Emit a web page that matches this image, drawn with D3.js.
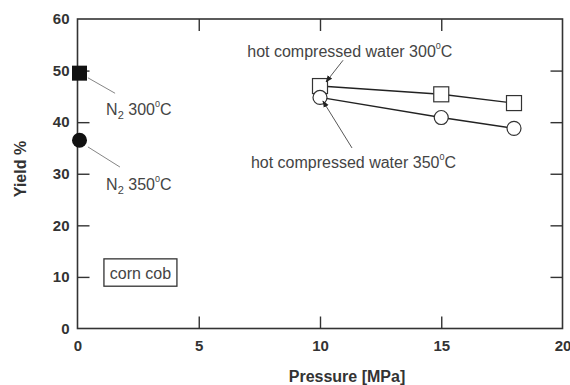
<!DOCTYPE html>
<html>
<head>
<meta charset="utf-8">
<script src="https://cdn.jsdelivr.net/npm/d3@7"></script>
<style>
  body { margin: 0; background: #fff; }
  svg text { font-family: "Liberation Sans", Arial, sans-serif; }
  .tick-label { font-size: 15px; font-weight: bold; fill: #333; }
  .axis-title { font-size: 16px; font-weight: bold; fill: #333; }
  .note { font-size: 16px; fill: #444; }
</style>
</head>
<body>
<div id="chart"></div>
<script>
// data
const xTicks = [0, 5, 10, 15, 20];
const yTicks = [0, 10, 20, 30, 40, 50, 60];

const n2Square = [{ p: 0, y: 49.5 }];   // N2 300°C
const n2Circle = [{ p: 0, y: 36.5 }];   // N2 350°C
const waterPressure = [10, 15, 18];
const water300 = [47.0, 45.4, 43.7];
const water350 = [44.8, 40.9, 38.8];

// annotation positions in data units
const notes = [
    { text: "hot compressed water 300", x: 7.0, y: 52.6, from: [10.95, 52.0], to: [10.25, 47.8], arrow: true },
    { text: "hot compressed water 350", x: 7.15, y: 31.1, from: [11.32, 35.0], to: [10.12, 44.1], arrow: true },
    { text: "N2 300", x: 1.18, y: 41.4, from: [1.55, 45.6], to: [0.43, 48.6], arrow: false, sub: true },
    { text: "N2 350", x: 1.18, y: 26.9, from: [1.75, 31.3], to: [0.43, 35.2], arrow: false, sub: true }
];
const boxLabel = { text: "corn cob", x0: 1.09, x1: 4.1, y0: 8.2, y1: 13.5 };

const margin = { top: 19, right: 7.5, bottom: 56.5, left: 77.5 };
const W = 570, H = 385;
const width = W - margin.left - margin.right;
const height = H - margin.top - margin.bottom;

const svg = d3.select("#chart").append("svg")
    .attr("width", W)
    .attr("height", H);

const defs = svg.append("defs");
defs.append("marker")
    .attr("id", "arrow")
    .attr("viewBox", "0 0 10 10")
    .attr("refX", 9).attr("refY", 5)
    .attr("markerWidth", 7).attr("markerHeight", 7)
    .attr("markerUnits", "userSpaceOnUse")
    .attr("orient", "auto")
    .append("path")
    .attr("d", "M0,1 L10,5 L0,9 Z")
    .attr("fill", "#222");

const g = svg.append("g")
    .attr("transform", `translate(${margin.left},${margin.top})`);

const x = d3.scaleLinear().domain([0, 20]).range([0, width]);
const y = d3.scaleLinear().domain([0, 60]).range([height, 0]);

const tickLen = 12;
const axisColor = "#333";

// frame
g.append("rect")
    .attr("width", width).attr("height", height)
    .attr("fill", "none").attr("stroke", axisColor).attr("stroke-width", 1.6);

// inward ticks on all four sides
const xAxisB = g.append("g").attr("transform", `translate(0,${height})`)
    .call(d3.axisBottom(x).tickValues(xTicks).tickSizeInner(-tickLen).tickSizeOuter(0).tickPadding(12));
const xAxisT = g.append("g")
    .call(d3.axisTop(x).tickValues(xTicks).tickSizeInner(-tickLen).tickSizeOuter(0).tickFormat(""));
const yAxisL = g.append("g")
    .call(d3.axisLeft(y).tickValues(yTicks).tickSizeInner(-tickLen).tickSizeOuter(0).tickPadding(8));
const yAxisR = g.append("g").attr("transform", `translate(${width},0)`)
    .call(d3.axisRight(y).tickValues(yTicks).tickSizeInner(-tickLen).tickSizeOuter(0).tickFormat(""));

[xAxisB, xAxisT, yAxisL, yAxisR].forEach(a => {
    a.select(".domain").remove();
    a.selectAll(".tick line").attr("stroke", axisColor).attr("stroke-width", 1.4);
    a.selectAll(".tick text").attr("class", "tick-label").attr("font-size", null).attr("font-family", null);
});
// drop ticks that sit on the frame corners
[xAxisB, xAxisT].forEach(a => a.selectAll(".tick line").filter(d => d === 0 || d === 20).remove());
[yAxisL, yAxisR].forEach(a => a.selectAll(".tick line").filter(d => d === 0 || d === 60).remove());

// axis titles
g.append("text")
    .attr("class", "axis-title")
    .attr("text-anchor", "middle")
    .attr("x", width / 2 + 27)
    .attr("y", height + 53)
    .text("Pressure [MPa]");

g.append("text")
    .attr("class", "axis-title")
    .attr("text-anchor", "middle")
    .attr("transform", "rotate(-90)")
    .attr("x", -(169 - margin.top))
    .attr("y", -52)
    .text("Yield %");

// water series lines
const line = d3.line().x(d => x(d[0])).y(d => y(d[1]));
[water300, water350].forEach(vals => {
    g.append("path")
        .datum(waterPressure.map((p, i) => [p, vals[i]]))
        .attr("d", line)
        .attr("fill", "none")
        .attr("stroke", "#222")
        .attr("stroke-width", 1.4);
});

// open squares
const sq = 15;
g.selectAll(".w300")
    .data(waterPressure.map((p, i) => [p, water300[i]]))
    .join("rect")
    .attr("class", "w300")
    .attr("x", d => x(d[0]) - sq / 2)
    .attr("y", d => y(d[1]) - sq / 2)
    .attr("width", sq).attr("height", sq)
    .attr("fill", "#fff").attr("stroke", "#333").attr("stroke-width", 1.2);

// open circles
g.selectAll(".w350")
    .data(waterPressure.map((p, i) => [p, water350[i]]))
    .join("circle")
    .attr("class", "w350")
    .attr("cx", d => x(d[0]))
    .attr("cy", d => y(d[1]))
    .attr("r", 7)
    .attr("fill", "#fff").attr("stroke", "#333").attr("stroke-width", 1.2);

// filled N2 markers
g.selectAll(".n2sq")
    .data(n2Square)
    .join("rect")
    .attr("x", d => x(d.p) - sq / 2 + 2)
    .attr("y", d => y(d.y) - sq / 2)
    .attr("width", sq).attr("height", sq)
    .attr("fill", "#111");

g.selectAll(".n2c")
    .data(n2Circle)
    .join("circle")
    .attr("cx", d => x(d.p) + 2)
    .attr("cy", d => y(d.y))
    .attr("r", 7.5)
    .attr("fill", "#111");

// annotations
notes.forEach(n => {
    g.append("line")
        .attr("x1", x(n.from[0])).attr("y1", y(n.from[1]))
        .attr("x2", x(n.to[0])).attr("y2", y(n.to[1]))
        .attr("stroke", n.arrow ? "#444" : "#777")
        .attr("stroke-width", 0.9)
        .attr("marker-end", n.arrow ? "url(#arrow)" : null);

    const t = g.append("text").attr("class", "note")
        .attr("x", x(n.x)).attr("y", y(n.y));
    if (n.sub) {
        const parts = n.text.split(" ");
        t.append("tspan").text("N");
        t.append("tspan").attr("font-size", 11).attr("dy", 4).text("2");
        t.append("tspan").attr("dy", -4).text(" " + parts[1]);
    } else {
        t.append("tspan").text(n.text);
    }
    t.append("tspan").attr("font-size", 9).attr("dy", -8).text("0");
    t.append("tspan").attr("dy", 8).text("C");
});

// corn cob box
g.append("rect")
    .attr("x", x(boxLabel.x0)).attr("y", y(boxLabel.y1))
    .attr("width", x(boxLabel.x1) - x(boxLabel.x0))
    .attr("height", y(boxLabel.y0) - y(boxLabel.y1))
    .attr("fill", "#fff").attr("stroke", "#333").attr("stroke-width", 1.3);
g.append("text")
    .attr("class", "note")
    .attr("text-anchor", "middle")
    .attr("x", (x(boxLabel.x0) + x(boxLabel.x1)) / 2)
    .attr("y", (y(boxLabel.y0) + y(boxLabel.y1)) / 2 + 6)
    .text(boxLabel.text);
</script>
</body>
</html>
